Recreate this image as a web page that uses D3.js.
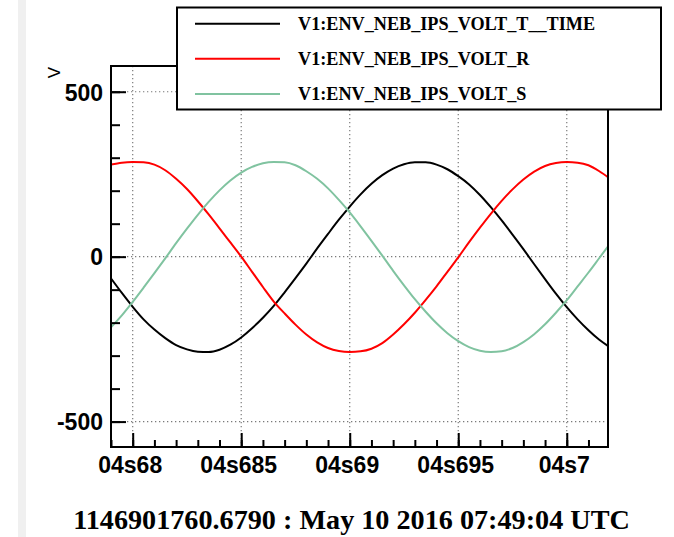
<!DOCTYPE html>
<html>
<head>
<meta charset="utf-8">
<script src="https://cdn.jsdelivr.net/npm/d3@7/dist/d3.min.js"></script>
<style>
  html, body { margin: 0; padding: 0; background: #fff; }
  svg { display: block; }
</style>
</head>
<body>
<script>
// Sample instants (seconds within the minute) and the three phase voltages (V)
const sampleTime = [4.6790,4.6795,4.6800,4.6805,4.6810,4.6815,4.6820,4.6825,4.6830,4.6835,
  4.6840,4.6845,4.6850,4.6855,4.6860,4.6865,4.6870,4.6875,4.6880,4.6885,
  4.6890,4.6895,4.6900,4.6905,4.6910,4.6915,4.6920,4.6925,4.6930,4.6935,
  4.6940,4.6945,4.6950,4.6955,4.6960,4.6965,4.6970,4.6975,4.6980,4.6985,
  4.6990,4.6995,4.7000,4.7005,4.7010,4.7015,4.7020];

const voltT = [-66,-110,-152,-190,-221,-247,-268,-281,-288,-289,
  -282,-267,-245,-217,-185,-149,-108,-65,-21,25,
  69,112,152,189,221,247,267,280,286,286,
  279,265,244,219,187,150,110,67,23,-23,
  -68,-112,-153,-190,-223,-252,-275];

const voltR = [279,285,287,286,279,262,236,205,168,128,
  86,43,0,-46,-92,-136,-172,-206,-236,-260,
  -277,-286,-289,-287,-279,-262,-236,-205,-170,-131,
  -90,-46,-2,44,88,130,169,204,234,258,
  275,284,287,285,277,259,236];

const voltS = [-214,-178,-137,-94,-50,-5,41,85,127,166,
  201,231,255,272,283,287,286,277,259,236,
  207,172,134,92,48,3,-43,-87,-129,-167,
  -202,-232,-256,-274,-285,-289,-287,-277,-259,-235,
  -205,-170,-132,-90,-48,-4,40];

const seriesNames = ["V1:ENV_NEB_IPS_VOLT_T__TIME", "V1:ENV_NEB_IPS_VOLT_R", "V1:ENV_NEB_IPS_VOLT_S"];
const seriesColors = ["#000000", "#ff0000", "#80c3a0"];

const xTickValues = [4.680, 4.685, 4.690, 4.695, 4.700];
const xTickLabels = ["04s68", "04s685", "04s69", "04s695", "04s7"];
const xMinorValues = d3.range(4.679, 4.7015, 0.001);
const yTickValues = [-500, 0, 500];
const yTickLabels = ["-500", "0", "500"];
const yMinorValues = d3.range(-500, 501, 100);
const yTitle = "V";
const footer = "1146901760.6790 : May 10 2016 07:49:04 UTC";

const W = 674, H = 537;
const frame = { left: 111, right: 608, top: 66, bottom: 447 };

const svg = d3.select("body").append("svg")
  .attr("width", W).attr("height", H);

// light strip down the left side
svg.append("rect").attr("x", 18).attr("y", 0).attr("width", 8).attr("height", H)
  .attr("fill", "#f0f0f0");

const x = d3.scaleLinear().domain([4.679, 4.7019]).range([frame.left, frame.right]);
const y = d3.scaleLinear().domain([-577, 578]).range([frame.bottom, frame.top]);

const sansFont = "'Liberation Sans', Arial, Helvetica, sans-serif";
const serifFont = "'Liberation Serif', 'Times New Roman', serif";

// dotted grid at the major ticks
const grid = svg.append("g").attr("stroke", "#7a7a7a").attr("stroke-width", 1.2)
  .attr("stroke-dasharray", "1.3,2.7");
grid.selectAll("line.gx").data(xTickValues).join("line")
  .attr("x1", d => x(d)).attr("x2", d => x(d))
  .attr("y1", frame.top).attr("y2", frame.bottom);
grid.selectAll("line.gy").data(yTickValues).join("line")
  .attr("x1", frame.left).attr("x2", frame.right)
  .attr("y1", d => y(d)).attr("y2", d => y(d));

// the three traces
svg.append("clipPath").attr("id", "plot-clip").append("rect")
  .attr("x", frame.left).attr("y", frame.top)
  .attr("width", frame.right - frame.left).attr("height", frame.bottom - frame.top);

const line = d3.line().x(d => x(d[0])).y(d => y(d[1])).curve(d3.curveMonotoneX);
const traces = [voltT, voltR, voltS];
const plot = svg.append("g").attr("clip-path", "url(#plot-clip)");
traces.forEach((vals, i) => {
  plot.append("path")
    .datum(sampleTime.map((t, k) => [t, vals[k]]))
    .attr("fill", "none")
    .attr("stroke", seriesColors[i])
    .attr("stroke-width", 2)
    .attr("d", line);
});

// frame
svg.append("rect")
  .attr("x", frame.left).attr("y", frame.top)
  .attr("width", frame.right - frame.left).attr("height", frame.bottom - frame.top)
  .attr("fill", "none").attr("stroke", "#000").attr("stroke-width", 2);

// x axis: major ticks with labels, then minor ticks
const xAxis = svg.append("g").attr("transform", `translate(0,${frame.bottom})`)
  .call(d3.axisBottom(x).tickValues(xTickValues)
    .tickFormat((d, i) => xTickLabels[i])
    .tickSizeInner(-14).tickSizeOuter(0).tickPadding(9.5));
svg.append("g").attr("transform", `translate(0,${frame.bottom})`)
  .call(d3.axisBottom(x).tickValues(xMinorValues).tickFormat("")
    .tickSizeInner(-7).tickSizeOuter(0));

// y axis
const yAxis = svg.append("g").attr("transform", `translate(${frame.left},0)`)
  .call(d3.axisLeft(y).tickValues(yTickValues).tickFormat((d, i) => yTickLabels[i])
    .tickSizeInner(-15).tickSizeOuter(0).tickPadding(8));
svg.append("g").attr("transform", `translate(${frame.left},0)`)
  .call(d3.axisLeft(y).tickValues(yMinorValues).tickFormat("")
    .tickSizeInner(-9).tickSizeOuter(0));

svg.selectAll(".domain").remove();
svg.selectAll(".tick line").attr("stroke", "#000").attr("stroke-width", 2);
svg.selectAll(".tick text")
  .attr("font-family", sansFont).attr("font-size", 23).attr("font-weight", "bold")
  .attr("fill", "#000");
xAxis.selectAll(".tick text").attr("dx", -3);
yAxis.selectAll(".tick text").attr("dy", "0.36em");

// y axis title
svg.append("text")
  .attr("transform", `translate(60,67) rotate(-90)`)
  .attr("text-anchor", "end")
  .attr("font-family", sansFont).attr("font-size", 17)
  .attr("fill", "#000")
  .text(yTitle);

// legend
const legend = svg.append("g");
legend.append("rect")
  .attr("x", 177).attr("y", 7.5).attr("width", 484).attr("height", 102)
  .attr("fill", "#fff").attr("stroke", "#000").attr("stroke-width", 2);
seriesNames.forEach((name, i) => {
  const ly = 23.7 + i * 35.1;
  legend.append("line")
    .attr("x1", 195).attr("x2", 280).attr("y1", ly).attr("y2", ly)
    .attr("stroke", seriesColors[i]).attr("stroke-width", 2);
  legend.append("text")
    .attr("x", 298).attr("y", ly + 6.3)
    .attr("font-family", serifFont).attr("font-weight", "bold").attr("font-size", 18.2)
    .attr("fill", "#000")
    .text(name);
});

// timestamp footer
svg.append("text")
  .attr("x", 351.5).attr("y", 528.5)
  .attr("text-anchor", "middle")
  .attr("font-family", serifFont).attr("font-weight", "bold").attr("font-size", 28.2)
  .attr("fill", "#000")
  .text(footer);
</script>
</body>
</html>
